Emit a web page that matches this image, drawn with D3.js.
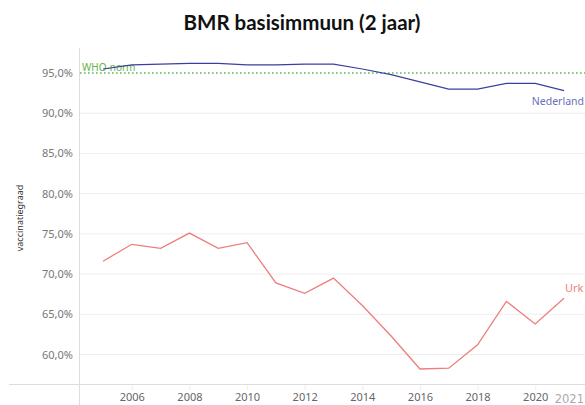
<!DOCTYPE html>
<html><head><meta charset="utf-8">
<script src="https://cdn.jsdelivr.net/npm/d3@7"></script>
<style>body{margin:0;background:#fff;}svg{display:block;}</style>
</head><body>
<svg id="c" width="585" height="405"></svg>
<script>
const years = [2005,2006,2007,2008,2009,2010,2011,2012,2013,2014,2015,2016,2017,2018,2019,2020,2021];
const nederland = [95.5,96.0,96.1,96.2,96.2,96.0,96.0,96.1,96.1,95.5,94.8,93.9,93.0,93.0,93.7,93.7,92.8];
const urk = [71.6,73.7,73.2,75.1,73.2,73.9,68.9,67.6,69.5,66.1,62.3,58.2,58.3,61.2,66.6,63.8,67.0];
const yTicks = [60,65,70,75,80,85,90,95];
const xTicks = [2006,2008,2010,2012,2014,2016,2018,2020];
const whoNorm = 95;
const title = "BMR basisimmuun (2 jaar)";

const svg = d3.select("#c");
const x = d3.scaleLinear().domain([2005,2021]).range([103,564]);
const y = d3.scaleLinear().domain([60,95]).range([354.5,73]);
const loc = d3.formatLocale({decimal:",",thousands:".",grouping:[3],currency:["€",""]});
const fmt = v => loc.format(".1f")(v) + "%";
const font = "'Noto Sans', sans-serif";

svg.append("text").attr("x",302).attr("y",30).attr("text-anchor","middle")
  .attr("font-family","Lato, sans-serif").attr("font-weight","bold").attr("font-size",20.5)
  .attr("fill","#111").text(title);

// gridlines
svg.append("g").selectAll("line").data(yTicks.filter(d=>d!==whoNorm)).join("line")
  .attr("x1",80).attr("x2",585).attr("y1",d=>y(d)).attr("y2",d=>y(d))
  .attr("stroke","#efefef").attr("stroke-width",1);

// y axis
const yAxis = d3.axisLeft(y).tickValues(yTicks).tickFormat(fmt).tickSize(0).tickPadding(6);
const gy = svg.append("g").attr("transform","translate(79,0)").call(yAxis);
gy.select(".domain").remove();
gy.selectAll("text").attr("font-family",font).attr("font-size",11).attr("fill","#777");

// axis lines
svg.append("line").attr("x1",79.5).attr("x2",79.5).attr("y1",48).attr("y2",405).attr("stroke","#ddd");
svg.append("line").attr("x1",9).attr("x2",585).attr("y1",384.5).attr("y2",384.5).attr("stroke","#ddd");

// x axis
const xAxis = d3.axisBottom(x).tickValues(xTicks).tickFormat(d3.format("d")).tickSize(5).tickPadding(3);
const gx = svg.append("g").attr("transform","translate(0,385)").call(xAxis);
gx.select(".domain").remove();
gx.selectAll("line").attr("stroke","#eee");
gx.selectAll("text").attr("font-family",font).attr("font-size",11).attr("fill","#666");
svg.append("text").attr("x",584).attr("y",403).attr("text-anchor","end").attr("font-family","'DejaVu Sans', sans-serif")
  .attr("font-size",11.5).attr("fill","#aaa").text("2021");

// y title
svg.append("text").attr("transform","translate(23,218) rotate(-90)").attr("text-anchor","middle")
  .attr("font-family",font).attr("font-size",9).attr("fill","#333").text("vaccinatiegraad");

// WHO norm
svg.append("line").attr("x1",80).attr("x2",585).attr("y1",y(whoNorm)).attr("y2",y(whoNorm))
  .attr("stroke","#5cb85c").attr("stroke-width",1.6).attr("stroke-dasharray","1.6,2.4");
svg.append("text").attr("x",82).attr("y",y(whoNorm)-2).attr("font-family",font).attr("font-size",10)
  .attr("fill","#6ab04c").text("WHO-norm");

const line = d3.line().x((d,i)=>x(years[i])).y(d=>y(d));
svg.append("path").datum(nederland).attr("d",line).attr("fill","none").attr("stroke","#3d3f9e").attr("stroke-width",1.2);
svg.append("path").datum(urk).attr("d",line).attr("fill","none").attr("stroke","#ee7d7d").attr("stroke-width",1.3);

svg.append("text").attr("x",584).attr("y",y(nederland[16])+14).attr("text-anchor","end").attr("font-family",font).attr("font-size",10.5)
  .attr("fill","#6b6fba").text("Nederland");
svg.append("text").attr("x",x(2021)+1).attr("y",y(urk[16])-6).attr("font-family",font).attr("font-size",11)
  .attr("fill","#ee8080").text("Urk");
</script>
</body></html>
